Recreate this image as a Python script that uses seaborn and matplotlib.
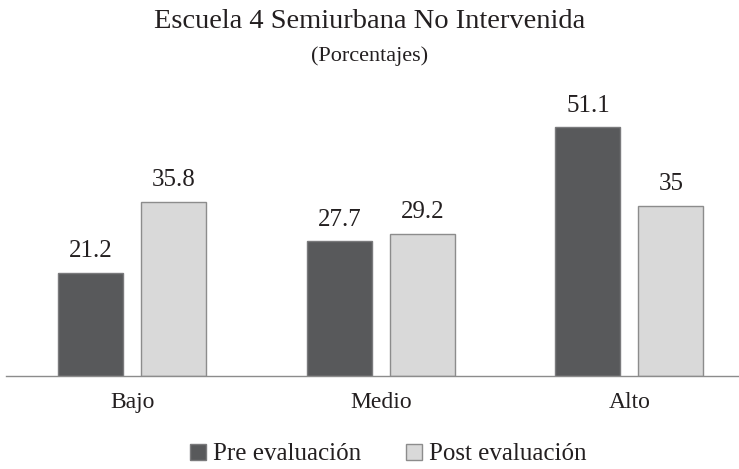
import matplotlib
matplotlib.use("Agg")
import matplotlib.pyplot as plt
from matplotlib.lines import Line2D
import pandas as pd
import seaborn as sns

categories = ["Bajo", "Medio", "Alto"]
series_names = ["Pre evaluación", "Post evaluación"]
pre_values = [21.2, 27.7, 51.1]
post_values = [35.8, 29.2, 35.0]
value_labels = {"Pre evaluación": ["21.2", "27.7", "51.1"],
                "Post evaluación": ["35.8", "29.2", "35"]}

colors = {"Pre evaluación": "#58595b", "Post evaluación": "#d9d9d9"}
edges = {"Pre evaluación": "#7a7a7c", "Post evaluación": "#8c8c8c"}

df = pd.DataFrame({
    "nivel": categories * 2,
    "serie": [series_names[0]] * 3 + [series_names[1]] * 3,
    "valor": pre_values + post_values,
})

sns.set_style("white")
plt.rcParams["font.family"] = ["Liberation Serif", "DejaVu Serif"]
text_color = "#231f20"

fig = plt.figure(figsize=(7.39, 4.69), dpi=100)
ax = fig.add_axes([6 / 739, 93 / 469, 733 / 739, 276 / 469])

sns.barplot(data=df, x="nivel", y="valor", hue="serie", order=categories,
            hue_order=series_names, palette=colors, width=0.668, gap=0.217,
            linewidth=1, legend=False, ax=ax)

for cont, name in zip(ax.containers, series_names):
    for bar in cont:
        bar.set_edgecolor(edges[name])
    ax.bar_label(cont, labels=value_labels[name], padding=7.5, fontsize=18,
                 color=text_color)

ax.set_xlim(-0.509, 2.441)
ax.set_ylim(0, 56.7)
ax.set_xlabel("")
ax.set_ylabel("")
ax.set_yticks([])
for side in ["top", "right", "left"]:
    ax.spines[side].set_visible(False)
ax.spines["bottom"].set_color("#8c8c8c")
ax.spines["bottom"].set_linewidth(1)
ax.tick_params(axis="x", length=0, pad=11.5, labelsize=17, colors=text_color)

fig.text(0.5, 1 - 28 / 469, "Escuela 4 Semiurbana No Intervenida",
         ha="center", va="baseline", fontsize=20.5, color=text_color)
fig.text(0.5, 1 - 61 / 469, "(Porcentajes)", ha="center", va="baseline",
         fontsize=16, color=text_color)

handles = [Line2D([], [], marker="s", linestyle="none", markersize=11.5,
                  markerfacecolor=colors[n], markeredgecolor=edges[n],
                  markeredgewidth=1) for n in series_names]
fig.legend(handles, series_names, loc="center", ncol=2,
           bbox_to_anchor=(0.522, 1 - 454 / 469), frameon=False,
           fontsize=18, handletextpad=0.1, columnspacing=1.6,
           handlelength=1.0, borderpad=0, labelcolor=text_color)

fig.savefig("out.png", dpi=100)
